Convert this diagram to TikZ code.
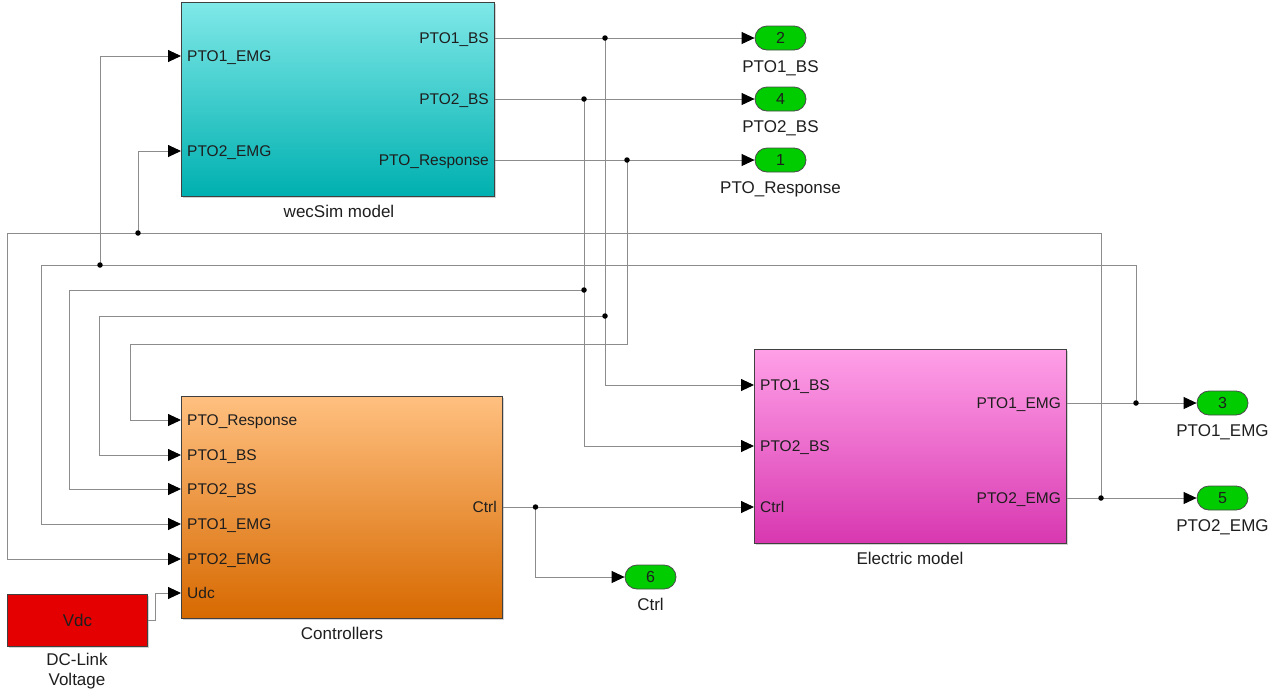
\documentclass[tikz,border=0pt]{standalone}
\usepackage{fontspec}
\setmainfont{Liberation Sans}
\usetikzlibrary{arrows.meta,shadows}
\definecolor{wire}{RGB}{140,140,140}
\definecolor{textcol}{RGB}{30,30,30}
\definecolor{cyT}{RGB}{128,232,232}
\definecolor{cyM}{RGB}{80,215,215}
\definecolor{cyB}{RGB}{0,176,176}
\definecolor{orT}{RGB}{255,192,128}
\definecolor{orM}{RGB}{240,160,80}
\definecolor{orB}{RGB}{215,105,0}
\definecolor{pkT}{RGB}{255,160,232}
\definecolor{pkM}{RGB}{240,120,210}
\definecolor{pkB}{RGB}{216,56,176}
\definecolor{vdcred}{RGB}{228,0,0}
\definecolor{outgreen}{RGB}{0,204,0}
\begin{document}
\begin{tikzpicture}[x=1pt,y=-1pt,
  sig/.style={draw=wire, line width=0.9pt},
  arr/.style={sig, -{Triangle[length=13pt,width=12pt,color=black]}},
  block/.style={draw=black!75, line width=0.8pt, inner sep=0pt,
    drop shadow={shadow xshift=1.5pt, shadow yshift=-1.5pt, opacity=0.35}},
  outport/.style={draw=black!70, line width=0.8pt, fill=outgreen, rounded corners=12pt,
    minimum width=51pt, minimum height=24pt, inner sep=0pt, text=textcol,
    font=\fontsize{16}{18}\selectfont},
  plab/.style={inner sep=0pt, text height=11pt, text depth=0pt, text=textcol,
    font=\fontsize{15.5}{18}\selectfont},
  nlab/.style={inner sep=0pt, text height=12pt, text depth=0pt, text=textcol,
    font=\fontsize{17}{20}\selectfont},
  dot/.style={circle, fill=black, inner sep=0pt, minimum size=5.5pt}]
\useasboundingbox (0,0) rectangle (1283,697);

% ---------- blocks ----------
\node[block, top color=cyT, middle color=cyM, bottom color=cyB,
  minimum width=313pt, minimum height=194pt] (wec) at (338,99) {};
\node[block, top color=orT, middle color=orM, bottom color=orB,
  minimum width=321pt, minimum height=222pt] (ctrl) at (342,507) {};
\node[block, top color=pkT, middle color=pkM, bottom color=pkB,
  minimum width=312pt, minimum height=194pt] (elec) at (910.5,446) {};
\node[block, fill=vdcred, minimum width=140pt, minimum height=52pt,
  text=textcol, font=\fontsize{17}{20}\selectfont] (vdc) at (77.5,620) {Vdc};

% ---------- block names ----------
\node[nlab] (wecname) at (339,211) {wecSim model};
\node[nlab] (ctrlname) at (342,633) {Controllers};
\node[nlab] (elecname) at (910,558) {Electric model};
\node[nlab, align=center, text height=, text depth=] (vdcname) at (77,671)
  {DC-Link\\[0pt]Voltage};

% ---------- port labels ----------
\node[plab, anchor=west] (wec-l1) at (187,56) {PTO1\_EMG};
\node[plab, anchor=west] (wec-l2) at (187,151) {PTO2\_EMG};
\node[plab, anchor=east] (wec-l3) at (489,38) {PTO1\_BS};
\node[plab, anchor=east] (wec-l4) at (489,99) {PTO2\_BS};
\node[plab, anchor=east] (wec-l5) at (489,160) {PTO\_Response};

\node[plab, anchor=west] (ctrl-l1) at (187,420) {PTO\_Response};
\node[plab, anchor=west] (ctrl-l2) at (187,455) {PTO1\_BS};
\node[plab, anchor=west] (ctrl-l3) at (187,489) {PTO2\_BS};
\node[plab, anchor=west] (ctrl-l4) at (187,524) {PTO1\_EMG};
\node[plab, anchor=west] (ctrl-l5) at (187,559) {PTO2\_EMG};
\node[plab, anchor=west] (ctrl-l6) at (187,593) {Udc};
\node[plab, anchor=east] (ctrl-l7) at (497,507) {Ctrl};

\node[plab, anchor=west] (elec-l1) at (760,385) {PTO1\_BS};
\node[plab, anchor=west] (elec-l2) at (760,446) {PTO2\_BS};
\node[plab, anchor=west] (elec-l3) at (760,507) {Ctrl};
\node[plab, anchor=east] (elec-l4) at (1061,403) {PTO1\_EMG};
\node[plab, anchor=east] (elec-l5) at (1061,498) {PTO2\_EMG};

% ---------- outports ----------
\node[outport] (op2) at (780.5,38) {2};
\node[outport] (op4) at (780.5,99) {4};
\node[outport] (op1) at (780.5,160) {1};
\node[outport] (op3) at (1222.5,403) {3};
\node[outport] (op5) at (1222.5,498) {5};
\node[outport] (op6) at (650.5,577) {6};
\node[nlab] (op2-l) at (780.5,66) {PTO1\_BS};
\node[nlab] (op4-l) at (780.5,126) {PTO2\_BS};
\node[nlab] (op1-l) at (780.5,187) {PTO\_Response};
\node[nlab] (op3-l) at (1222.5,430) {PTO1\_EMG};
\node[nlab] (op5-l) at (1222.5,525) {PTO2\_EMG};
\node[nlab] (op6-l) at (650.5,604) {Ctrl};

% ---------- port coordinates ----------
\coordinate (wec-i1) at (181,56);
\coordinate (wec-i2) at (181,151);
\coordinate (wec-o1) at (495,38);
\coordinate (wec-o2) at (495,99);
\coordinate (wec-o3) at (495,160);
\coordinate (ctrl-i1) at (181,420);
\coordinate (ctrl-i2) at (181,455);
\coordinate (ctrl-i3) at (181,489);
\coordinate (ctrl-i4) at (181,524);
\coordinate (ctrl-i5) at (181,559);
\coordinate (ctrl-i6) at (181,593);
\coordinate (ctrl-o1) at (502.5,507);
\coordinate (elec-i1) at (754,385);
\coordinate (elec-i2) at (754,446);
\coordinate (elec-i3) at (754,507);
\coordinate (elec-o1) at (1067,403);
\coordinate (elec-o2) at (1067,498);

% ---------- junctions ----------
\coordinate (j1) at (605,38);
\coordinate (j2) at (584,99);
\coordinate (j3) at (627,160);
\coordinate (j4) at (605,316);
\coordinate (j5) at (584,290);
\coordinate (j6) at (1136,403);
\coordinate (j7) at (100,265);
\coordinate (j8) at (1101,498);
\coordinate (j9) at (138,233);
\coordinate (j10) at (535.5,507);

% ---------- connectors ----------
\draw[arr] (wec-o1) -- (op2);
\draw[arr] (wec-o2) -- (op4);
\draw[arr] (wec-o3) -- (op1);
\draw[arr] (j1) |- (elec-i1);
\draw[arr] (j4) -- (99,316) |- (ctrl-i2);
\draw[arr] (j2) |- (elec-i2);
\draw[arr] (j5) -- (69,290) |- (ctrl-i3);
\draw[arr] (j3) -- (627,344) -- (130,344) |- (ctrl-i1);

\draw[arr] (elec-o1) -- (op3);
\draw[arr] (j6) -- (1136,265) -- (41,265) |- (ctrl-i4);
\draw[arr] (j7) |- (wec-i1);
\draw[arr] (elec-o2) -- (op5);
\draw[arr] (j8) -- (1101,233) -- (7,233) |- (ctrl-i5);
\draw[arr] (j9) |- (wec-i2);

\draw[arr] (ctrl-o1) -- (elec-i3);
\draw[arr] (j10) |- (op6);
\draw[arr] (vdc.east) -- (155,620) |- (ctrl-i6);

\foreach \j in {j1,j2,j3,j4,j5,j6,j7,j8,j9,j10}
  \node[dot] at (\j) {};
\end{tikzpicture}
\end{document}
